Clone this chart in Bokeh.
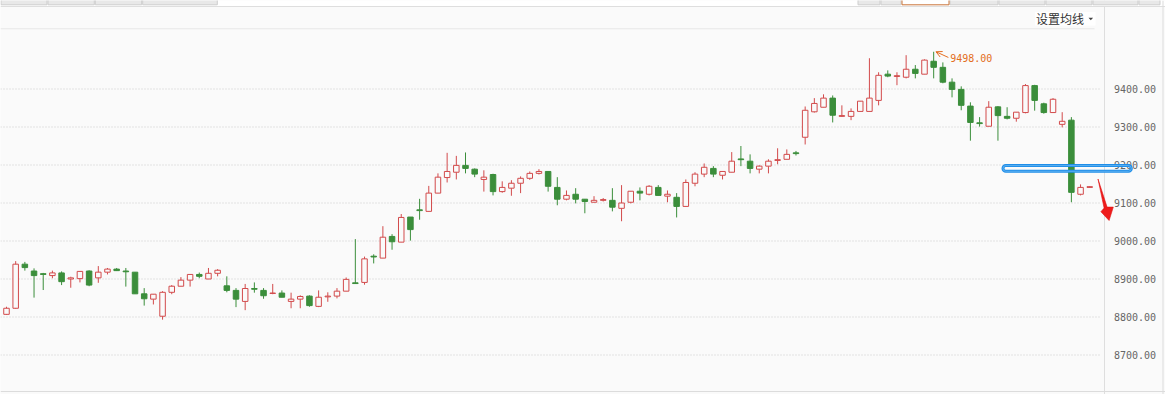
from bokeh.plotting import figure
from bokeh.models import (Range1d, LinearAxis, FixedTicker, NumeralTickFormatter,
                          ColumnDataSource, Label, Arrow, OpenHead, BoxAnnotation,
                          PolyAnnotation)
from bokeh.embed import file_html
from bokeh.resources import INLINE

# ---- daily OHLC prices ----
opens = [8807, 8823, 8939, 8921, 8914, 8909, 8916, 8900, 8901, 8921,
         8903, 8918, 8926, 8921, 8918, 8861, 8847, 8802, 8865, 8881,
         8897, 8912, 8900, 8915, 8882, 8870, 8841, 8875, 8870, 8862,
         8863, 8841, 8847, 8855, 8828, 8853, 8855, 8868, 8890, 8891,
         8960, 8955, 9012, 8997, 9063, 9082, 9078, 9126, 9167, 9181,
         9199, 9189, 9162, 9175, 9130, 9139, 9152, 9165, 9178, 9183,
         9141, 9110, 9123, 9110, 9102, 9107, 9107, 9086, 9102, 9131,
         9123, 9141, 9118, 9115, 9091, 9152, 9176, 9191, 9173, 9181,
         9216, 9210, 9189, 9197, 9212, 9215, 9232, 9273, 9340, 9352,
         9376, 9328, 9328, 9341, 9341, 9370, 9439, 9433, 9431, 9452,
         9439, 9473, 9457, 9418, 9399, 9355, 9311, 9302, 9353, 9328,
         9323, 9338, 9409, 9361, 9338, 9307, 9318, 9123, 9141]
highs = [8827, 8947, 8945, 8928, 8916, 8922, 8920, 8906, 8920, 8923,
         8934, 8929, 8929, 8929, 8918, 8876, 8860, 8868, 8884, 8905,
         8912, 8917, 8929, 8926, 8907, 8876, 8887, 8891, 8876, 8887,
         8870, 8864, 8857, 8857, 8870, 8865, 8876, 8904, 9005, 8959,
         8965, 9039, 9018, 9071, 9063, 9111, 9145, 9178, 9232, 9224,
         9233, 9191, 9186, 9177, 9157, 9160, 9170, 9183, 9189, 9183,
         9168, 9133, 9139, 9110, 9118, 9113, 9139, 9147, 9131, 9141,
         9147, 9147, 9133, 9126, 9162, 9181, 9204, 9197, 9183, 9234,
         9250, 9228, 9199, 9215, 9244, 9241, 9237, 9354, 9376, 9386,
         9383, 9357, 9349, 9368, 9481, 9444, 9449, 9444, 9489, 9463,
         9478, 9498, 9470, 9428, 9407, 9365, 9326, 9368, 9355, 9352,
         9339, 9413, 9411, 9364, 9376, 9339, 9326, 9149, 9144]
lows = [8806, 8822, 8922, 8851, 8871, 8902, 8884, 8877, 8891, 8881,
        8890, 8912, 8921, 8880, 8861, 8830, 8833, 8793, 8860, 8881,
        8880, 8902, 8900, 8907, 8865, 8826, 8818, 8864, 8848, 8860,
        8852, 8823, 8823, 8827, 8826, 8840, 8849, 8868, 8887, 8885,
        8941, 8955, 8977, 8997, 9001, 9056, 9078, 9126, 9154, 9162,
        9178, 9168, 9130, 9120, 9127, 9119, 9126, 9161, 9175, 9130,
        9094, 9107, 9099, 9073, 9102, 9104, 9078, 9052, 9099, 9107,
        9120, 9120, 9102, 9062, 9091, 9144, 9168, 9168, 9162, 9181,
        9197, 9178, 9178, 9178, 9202, 9215, 9225, 9254, 9338, 9352,
        9312, 9327, 9318, 9341, 9341, 9357, 9431, 9410, 9428, 9428,
        9439, 9428, 9415, 9378, 9344, 9264, 9301, 9302, 9264, 9320,
        9314, 9336, 9343, 9335, 9338, 9299, 9102, 9120, 9140]
closes = [8823, 8939, 8930, 8909, 8912, 8916, 8893, 8903, 8920, 8884,
          8918, 8926, 8922, 8919, 8861, 8848, 8860, 8865, 8881, 8897,
          8912, 8907, 8915, 8923, 8870, 8847, 8875, 8873, 8856, 8863,
          8852, 8847, 8854, 8830, 8852, 8855, 8868, 8899, 8888, 8953,
          8958, 9010, 8998, 9062, 9030, 9080, 9126, 9168, 9183, 9199,
          9191, 9176, 9168, 9130, 9141, 9152, 9165, 9178, 9183, 9144,
          9110, 9120, 9110, 9104, 9107, 9109, 9089, 9100, 9131, 9126,
          9144, 9120, 9123, 9091, 9154, 9176, 9194, 9176, 9183, 9210,
          9214, 9191, 9197, 9210, 9214, 9228, 9230, 9344, 9362, 9376,
          9331, 9330, 9341, 9368, 9376, 9436, 9434, 9435, 9452, 9441,
          9476, 9457, 9418, 9399, 9357, 9312, 9309, 9352, 9330, 9323,
          9339, 9409, 9370, 9338, 9373, 9315, 9128, 9141, 9143]

price_ticks = [8700, 8800, 8900, 9000, 9100, 9200, 9300, 9400]
menu_label = "设置均线"
support_level = 9191      # price band highlighted on the right

# ---- styling ----
RED = "#d24a4b"
GREEN = "#3b8e3b"
BG = "#fafafa"
ORANGE = "#e36d20"
BLUE = "#1f8ee9"

W, H = 1165, 394
AXIS_PX = 1103.5          # column of the price axis line
GRID_END_PX = 1100

# pixel geometry of the canvas: candle pitch and price scale
STEP_PX = 9.18
FIRST_PX = 6.0
PX_PER_POINT = 0.38
REF_PRICE, REF_PY = 9400, 88.5


def dx(px):
    """canvas pixel column -> candle index"""
    return (px - FIRST_PX) / STEP_PX


def dy(py):
    """canvas pixel row -> price"""
    return REF_PRICE - (py - REF_PY) / PX_PER_POINT


# the frame covers the whole canvas; the price axis is pinned inside it
p = figure(width=W, height=H, output_backend="svg", toolbar_location=None,
           x_range=Range1d(dx(0), dx(W)), y_range=Range1d(dy(H), dy(0)),
           x_axis_location=None, y_axis_location=None,
           min_border_left=0, min_border_right=0,
           min_border_top=0, min_border_bottom=0)
p.background_fill_color = BG
p.border_fill_color = BG
p.outline_line_color = None
p.grid.visible = False

ticker = FixedTicker(ticks=price_ticks)
axis = LinearAxis(ticker=ticker, formatter=NumeralTickFormatter(format="0.00"),
                  fixed_location=dx(AXIS_PX),
                  axis_line_color="#dedede", major_tick_out=0, major_tick_in=0,
                  minor_tick_out=0, minor_tick_in=0, major_label_standoff=10,
                  major_label_text_font="DejaVu Sans Mono",
                  major_label_text_font_size="10px",
                  major_label_text_color="#666666")
p.add_layout(axis, "right")

# dotted horizontal guides at each price tick
p.segment(x0=dx(0), x1=dx(GRID_END_PX), y0=price_ticks, y1=price_ticks,
          line_color="#cacaca", line_width=1, line_dash="1 2", level="underlay")

# ---- candles ----
idx = list(range(len(opens)))
up = [c >= o for o, c in zip(opens, closes)]
src = ColumnDataSource(dict(
    x=idx, high=highs, low=lows,
    top=[max(o, c) for o, c in zip(opens, closes)],
    bottom=[min(o, c) for o, c in zip(opens, closes)],
    color=[RED if u else GREEN for u in up],
    fill=[BG if u else GREEN for u in up],
))
p.segment(x0="x", y0="high", x1="x", y1="low", line_color="color", line_width=1, source=src)
p.vbar(x="x", width=0.6, top="top", bottom="bottom", fill_color="fill",
       line_color="color", line_width=1, source=src)

# ---- highest price marker ----
hi_i = max(idx, key=lambda i: highs[i])
hi = highs[hi_i]
p.add_layout(Arrow(end=OpenHead(size=6, line_color=ORANGE, line_width=1),
                   x_start=hi_i + 1.6, y_start=hi - 15, x_end=hi_i + 0.25, y_end=hi,
                   line_color=ORANGE, line_width=1))
p.add_layout(Label(x=hi_i + 1.8, y=hi - 17, text=f"{hi:.2f}", text_color=ORANGE,
                   text_font="DejaVu Sans Mono", text_font_size="10px",
                   text_baseline="middle"))

# ---- highlighted support band and downward arrow ----
band = dict(left=dx(1002.5), right=dx(1130.8), top=support_level + 7.5,
            bottom=support_level - 7.5)
p.add_layout(BoxAnnotation(**band, fill_alpha=0, line_color=BLUE, line_alpha=1,
                           line_width=3, border_radius=4))
p.add_layout(BoxAnnotation(**band, fill_alpha=0, line_color="#8ccaf6", line_alpha=0.7,
                           line_width=0.8, border_radius=4))
arrow_px = [(1097.5, 178.5), (1106.6, 206.6), (1112.8, 206.6), (1108.6, 220.0),
            (1100.4, 211.2), (1103.6, 207.6)]
p.add_layout(PolyAnnotation(xs=[dx(a) for a, _ in arrow_px], ys=[dy(b) for _, b in arrow_px],
                            fill_color="#ee1c1c", fill_alpha=1, line_color="#e01010",
                            line_alpha=1, line_width=0.6))

# ---- page chrome: tab strip, separators and the moving-average menu ----
def rect(x0, x1, y0, y1, fill, line=None):
    p.add_layout(BoxAnnotation(left=dx(x0), right=dx(x1), top=dy(y0), bottom=dy(y1),
                               fill_color=fill, fill_alpha=1,
                               line_color=line, line_alpha=1,
                               line_width=1 if line else 0))


rect(0, W, 0, 6, "#ffffff")
for a, b in [(0, 47), (47, 94.3), (94.3, 141.7), (141.7, 217.3),
             (857, 880), (880, 901), (949, 998), (998, 1045), (1045, 1092),
             (1092, 1138), (1138, 1160)]:
    rect(a + 0.5, b - 0.5, -2, 4.3, "#e8e8e8", "#cdcdcd")
rect(901.5, 948.5, -2, 4.3, "#ffffff", "#c97439")
rect(0, W, 5.6, 6.6, "#dedede")
rect(0, 1094, 27.8, 28.8, "#e7e7e7")
rect(1162, 1163, 0, H, "#dcdcdc")
rect(0, W, 390.6, 391.6, "#dcdcdc")
rect(1034.5, 1095, 11.5, 25, "#ffffff")

p.add_layout(Label(x=dx(1035.5), y=dy(18), text=menu_label, text_color="#333333",
                   text_font="Noto Sans CJK SC", text_font_size="12px",
                   text_baseline="middle"))
tri = [(1088, 17.2), (1092.6, 17.2), (1090.3, 19.8)]
p.add_layout(PolyAnnotation(xs=[dx(a) for a, _ in tri], ys=[dy(b) for _, b in tri],
                            fill_color="#444444", fill_alpha=1, line_color=None))

open("out.html", "w").write(file_html(p, INLINE))
